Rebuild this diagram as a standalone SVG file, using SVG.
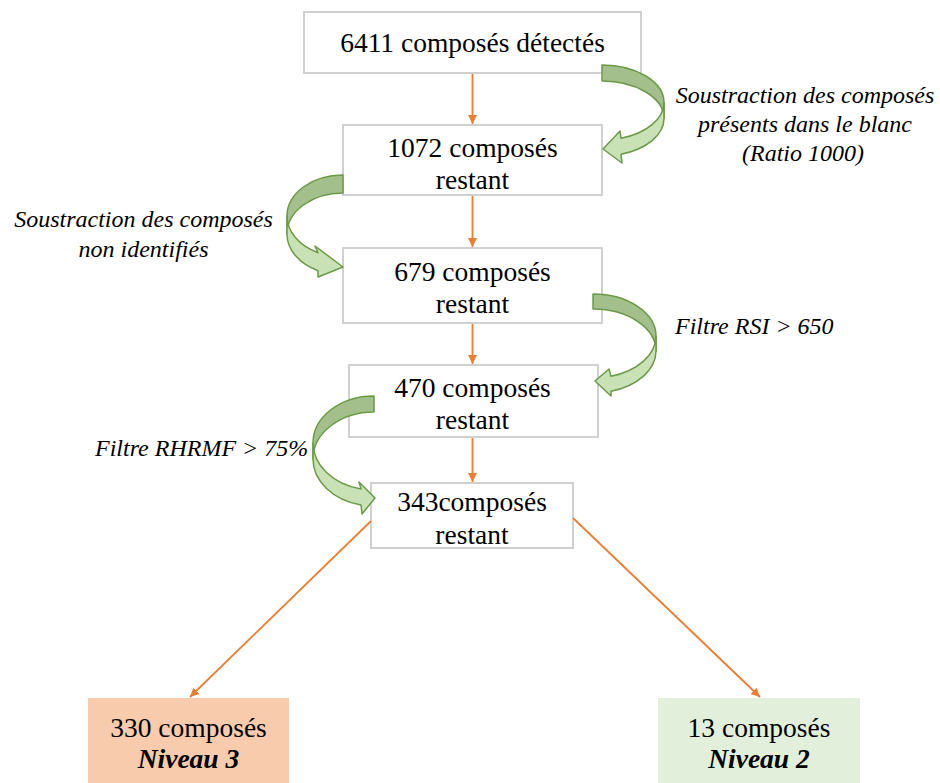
<svg xmlns="http://www.w3.org/2000/svg" width="940" height="783" viewBox="0 0 940 783">
<defs>
<marker id="ah" viewBox="0 0 10 10" refX="10" refY="5" markerWidth="5" markerHeight="5" orient="auto" markerUnits="strokeWidth">
<path d="M0,0 L10,5 L0,10 z" fill="#ED7D31"/>
</marker>
<style>
.box{fill:#FFFFFF;stroke:#D0D0D0;stroke-width:2}
.t{font-family:"Liberation Serif","Times New Roman",serif;font-size:27.5px;fill:#000;text-anchor:middle}
.lbl{font-family:"Liberation Serif","Times New Roman",serif;font-size:24px;font-style:italic;fill:#000}
.bi{font-weight:bold;font-style:italic}
.ln{stroke:#ED7D31;stroke-width:1.8;fill:none;marker-end:url(#ah)}
.dk{fill:#A3BF8C;stroke:#6B9A47;stroke-width:1.5;stroke-linejoin:round}
.lt{fill:#C9E2B5;stroke:#6B9A47;stroke-width:1.5;stroke-linejoin:round}
</style>
</defs>
<rect width="940" height="783" fill="#FFFFFF"/>
<g id="n1"><rect class="box" x="304" y="12" width="337" height="61"/><text class="t" x="472.5" y="52">6411 composés détectés</text></g>
<g id="n2"><rect class="box" x="343" y="125" width="259" height="70"/><text class="t" x="472.5" y="157">1072 composés</text><text class="t" x="472.5" y="189">restant</text></g>
<g id="n3"><rect class="box" x="343" y="248" width="259" height="75"/><text class="t" x="472.5" y="281">679 composés</text><text class="t" x="472.5" y="313">restant</text></g>
<g id="n4"><rect class="box" x="349" y="365" width="249" height="72"/><text class="t" x="472.5" y="397">470 composés</text><text class="t" x="472.5" y="429">restant</text></g>
<g id="n5"><rect class="box" x="371" y="483" width="202" height="65"/><text class="t" x="472" y="511">343composés</text><text class="t" x="472" y="544">restant</text></g>
<g id="n6"><rect x="88" y="698" width="201" height="85" fill="#F8CBAD"/><text class="t" x="188.5" y="737">330 composés</text><text class="t bi" x="188.5" y="768">Niveau 3</text></g>
<g id="n7"><rect x="658" y="698" width="202" height="85" fill="#E2EFDA"/><text class="t" x="759" y="737">13 composés</text><text class="t bi" x="759" y="768">Niveau 2</text></g>
<g id="labels">
<text class="lbl" text-anchor="middle" x="805" y="103">Soustraction des composés</text>
<text class="lbl" text-anchor="middle" x="805" y="132">présents dans le blanc</text>
<text class="lbl" text-anchor="middle" x="803" y="161">(Ratio 1000)</text>
<text class="lbl" text-anchor="middle" x="143.5" y="227">Soustraction des composés</text>
<text class="lbl" text-anchor="middle" x="143.5" y="257">non identifiés</text>
<text class="lbl" x="675" y="334">Filtre RSI &gt; 650</text>
<text class="lbl" x="95" y="456">Filtre RHRMF &gt; 75%</text>
</g>
<g id="connectors">
<line class="ln" x1="472.5" y1="74" x2="472.5" y2="124"/>
<line class="ln" x1="472.5" y1="196" x2="472.5" y2="247"/>
<line class="ln" x1="472.5" y1="324" x2="472.5" y2="364"/>
<line class="ln" x1="472.5" y1="438" x2="472.5" y2="482"/>
<line class="ln" x1="371" y1="521" x2="190" y2="697"/>
<line class="ln" x1="573" y1="518" x2="760" y2="697"/>
<!-- curved arrow 1 -->
<path class="dk" d="M602,65 A62,37.5 0 0 1 664,102.5 L664,118.5 A62,37.5 0 0 0 602,81 Z"/>
<path class="lt" d="M664,102.5 A62,37.5 0 0 1 621,138.2 L620,131 L603,149 L622,163 L621,154.2 A62,37.5 0 0 0 664,118.5 Z"/>
<!-- curved arrow 2 -->
<path class="dk" d="M343,175 A56,41 0 0 0 287,216 L287,234 A56,41 0 0 1 343,193 Z"/>
<path class="lt" d="M287,216 A56,41 0 0 0 318,252.7 L315,246 L343,267 L318,277 L318,270.7 A56,41 0 0 1 287,234 Z"/>
<!-- curved arrow 3 -->
<path class="dk" d="M593,294 A63,42 0 0 1 656,336 L656,351 A63,42 0 0 0 593,309 Z"/>
<path class="lt" d="M656,336 A63,42 0 0 1 611,376.2 L609,369 L595,381 L611,396 L611,391.2 A63,42 0 0 0 656,351 Z"/>
<!-- curved arrow 4 -->
<path class="dk" d="M374,396 A61,47 0 0 0 313,443 L313,459 A61,47 0 0 1 374,412 Z"/>
<path class="lt" d="M313,443 A61,47 0 0 0 361,488.9 L359,482 L375,498 L362,514 L361,504.9 A61,47 0 0 1 313,459 Z"/>
</g>
</svg>
